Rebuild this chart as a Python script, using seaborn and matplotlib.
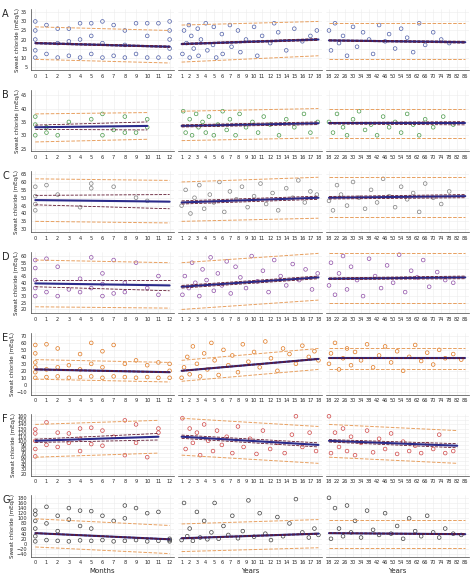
import matplotlib
matplotlib.use("Agg")
import matplotlib.pyplot as plt
import seaborn as sns
import numpy as np
import pandas as pd

sns.set_theme(style="whitegrid")
plt.rcParams['font.family'] = ['DejaVu Sans']

panels = ["A", "B", "C", "D", "E", "F", "G"]
colors = ["#5060a8", "#4a9a4a", "#808080", "#9050a8", "#e07820", "#d04848", "#404040"]
ylims = [(3, 37), (24, 47), (28, 67), (17, 63), (-14, 74), (15, 165), (-50, 190)]
yticks = [np.arange(5, 36, 5), np.arange(25, 46, 5), np.arange(30, 66, 5), np.arange(20, 61, 5),
          np.arange(-10, 71, 10), np.arange(20, 161, 10), np.arange(-40, 181, 20)]

fits = {
 "A": [(0,12,18,16,0.4,0.4,27,25,9,7), (1,18,17.5,20,0.4,0.5,28,30,7.5,11), (18,86,19.5,18.5,0.3,0.5,29,29,9,9)],
 "B": [(0,10,33,33.5,0.8,1.5,38,38.5,27.5,28.5), (1,18,33.5,34.5,0.4,0.5,39,40,28,29), (18,86,34.5,34.5,0.3,0.6,40,40,29,29)],
 "C": [(0,12,48.5,47.5,3,4.5,62,61,35,34), (1,18,47,50,1,1,60,63,35,37), (18,86,50,51,0.8,1,63,63,38,38)],
 "D": [(0,12,39.5,38,2.5,4,57,55,22,21), (1,18,37,44,1,1,55,62,20,27), (18,86,43,44,0.6,1,62,62,25,25)],
 "E": [(0,12,22,18,0.6,0.6,36,32,8,4), (1,18,20,37,0.5,0.6,35,52,5,22), (18,86,38,38,0.4,0.6,53,53,23,23)],
 "F": [(0,11,100,110,4,8,140,150,60,70), (1,18,110,90,4,5,155,135,65,45), (18,82,100,88,3,5,140,125,60,45)],
 "G": [(0,12,42,18,1.5,1.5,98,72,-12,-38), (1,18,22,40,1.5,2,78,95,-30,-15), (18,86,42,38,1.5,2,95,95,-15,-15)],
}

A1_x = [0,0,0,0,0,1,1,2,2,2,3,3,3,4,4,4,5,5,5,6,6,6,7,7,8,8,8,9,9,10,10,10,11,11,12,12,12,12,12]
A1_y = [10,14,20,25,30,12,28,10,18,26,11,19,26,10,20,29,12,22,29,10,18,30,11,28,10,17,25,12,29,10,22,29,10,29,10,15,20,25,30]
A2_x = [1.1,1.3,1.6,1.9,2.0,2.2,2.5,3.0,3.1,3.4,4.0,4.2,4.9,5.0,5.3,6.0,6.1,7.0,7.2,8.0,8.3,9.0,10.0,10.4,11.0,12.0,12.5,13.0,14.0,15.0,16.0,17.0,17.8]
A2_y = [12,25,18,28,10,22,15,26,11,20,29,14,17,27,10,23,12,28,16,25,13,20,27,11,22,18,29,24,14,26,19,22,25]
A3_x = [18,19,21,23,25,27,30,32,35,38,40,43,46,48,51,54,57,60,63,66,70,74,78]
A3_y = [25,14,29,18,22,11,27,16,24,20,12,28,19,23,15,26,21,13,29,17,24,20,18]
B1_x = [0,0,0,1,1,2,3,5,6,6,7,8,8,9,10,10]
B1_y = [30,34,37,31,33,30,35,36,38,30,32,37,31,31,33,36]
B2_x = [1.2,1.5,2.0,2.3,2.8,3.1,3.6,4.0,4.4,5.0,5.5,6.1,6.6,7.0,7.7,8.2,9.0,9.8,10.5,11.2,12.0,13.1,14.0,15.0,16.2,17.0,17.9]
B2_y = [39,31,36,30,38,33,35,31,37,30,34,39,32,36,30,38,33,35,31,37,34,30,36,33,38,31,35]
B3_x = [18,20,22,25,27,30,33,36,39,42,45,48,51,54,57,60,63,66,70,75,80]
B3_y = [35,31,38,33,30,36,39,32,34,30,37,33,35,31,38,34,30,36,33,37,34]
C1_x = [0,0,0,0,1,2,4,5,5,7,9,10]
C1_y = [42,46,51,57,58,52,44,56,59,57,50,48]
C2_x = [1.0,1.5,2.1,2.6,3.2,3.8,4.5,5.0,5.7,6.3,7.0,7.8,8.5,9.2,10.0,10.8,11.5,12.3,13.0,14.0,14.8,15.5,16.3,17.0,17.8]
C2_y = [45,55,40,50,58,43,52,47,60,41,54,49,57,44,51,59,46,53,42,56,50,61,47,54,52]
C3_x = [18,20,22,24,27,30,33,36,39,42,45,48,51,54,57,60,63,66,70,74,78]
C3_y = [48,42,58,52,45,60,50,43,55,47,62,51,44,57,49,53,41,59,50,46,54]
D1_x = [0,0,0,0,0,1,1,2,2,3,4,4,5,5,6,6,6,7,7,8,8,9,10,11,11]
D1_y = [30,36,42,51,57,33,58,30,52,35,33,43,36,59,30,39,47,32,57,33,40,55,36,31,45]
D2_x = [1.1,1.4,1.9,2.3,2.7,3.2,3.6,4.1,4.6,5.0,5.5,6.0,6.6,7.1,7.7,8.3,9.0,9.7,10.4,11.1,11.8,12.5,13.3,14.0,14.8,15.6,16.4,17.2,17.9]
D2_y = [31,45,36,55,40,30,50,42,59,34,47,38,56,32,52,44,36,60,41,49,33,57,45,38,54,42,50,35,47]
D3_x = [18,19,21,23,25,27,29,32,35,38,41,44,47,50,53,56,59,62,65,68,72,76,80]
D3_y = [38,55,31,47,60,35,52,42,30,58,45,36,53,40,61,33,49,44,57,37,48,42,40]
E1_x = [0,0,0,0,0,0,1,1,1,2,2,2,3,3,4,4,4,5,5,5,6,6,6,7,7,8,8,9,9,10,10,11,11,12,12,12]
E1_y = [10,18,25,32,45,57,11,22,58,12,25,52,10,28,11,22,44,12,30,60,10,25,48,12,57,11,30,10,35,11,28,10,32,10,20,30]
E2_x = [1.0,1.3,1.7,2.0,2.4,2.9,3.3,3.8,4.2,4.7,5.1,5.6,6.2,6.8,7.3,8.0,8.6,9.3,10.0,10.7,11.4,12.1,12.9,13.6,14.4,15.2,16.0,16.8,17.5,18.0]
E2_y = [10,25,40,15,55,30,12,45,22,60,35,14,50,28,42,18,58,33,47,25,62,38,20,52,44,30,56,40,48,35]
E3_x = [18,19,21,23,25,27,29,31,34,37,40,43,46,49,52,55,58,61,64,67,70,73,76,80,84]
E3_y = [30,45,60,22,38,52,28,47,35,58,25,42,55,32,48,20,40,57,34,46,29,50,38,44,36]
F1_x = [0,0,0,0,0,1,1,2,2,3,3,4,4,4,5,5,6,6,7,8,8,9,9,10,11,11]
F1_y = [62,80,100,118,128,90,145,85,120,95,118,75,105,130,92,132,88,125,110,150,65,140,95,60,120,130]
F2_x = [1.1,1.5,2.0,2.4,2.9,3.3,3.8,4.3,4.9,5.4,6.0,6.6,7.3,8.0,8.7,9.5,10.3,11.1,12.0,12.9,13.8,14.7,15.2,16.0,16.9,17.7]
F2_y = [155,80,130,95,120,65,140,100,75,125,90,110,70,135,85,105,68,125,80,95,70,115,160,85,120,75]
F3_x = [18,19,21,23,25,27,29,31,34,37,40,43,46,49,52,55,58,61,64,67,70,73,76,80]
F3_y = [160,70,120,85,130,75,110,65,95,125,72,105,80,118,68,98,75,88,70,92,80,115,70,75]
G1_x = [0,0,0,0,0,0,1,1,1,2,2,2,3,3,3,4,4,4,5,5,5,6,6,7,7,8,8,8,9,9,10,10,11,11,12,12,12]
G1_y = [10,30,60,90,115,130,15,80,145,12,50,110,10,95,140,14,70,130,12,60,128,15,110,10,90,12,100,150,15,140,10,120,12,125,10,15,20]
G2_x = [1.0,1.3,1.7,2.0,2.4,2.9,3.3,3.8,4.2,4.7,5.1,5.6,6.2,6.8,7.3,8.0,8.6,9.3,10.0,10.7,11.4,12.1,12.9,13.6,14.4,15.2,16.0,16.8,17.5,18.0]
G2_y = [15,160,30,60,12,125,25,90,18,45,160,20,70,35,110,22,50,170,28,120,40,15,105,30,80,175,45,25,60,35]
G3_x = [18,19,21,23,25,27,29,31,34,37,40,43,46,49,52,55,58,61,64,67,70,73,76,80,84]
G3_y = [180,20,140,60,30,150,45,90,25,130,55,35,120,40,70,20,100,50,30,110,45,25,60,40,35]

points = {
 "A": [(A1_x, A1_y), (A2_x, A2_y), (A3_x, A3_y)],
 "B": [(B1_x, B1_y), (B2_x, B2_y), (B3_x, B3_y)],
 "C": [(C1_x, C1_y), (C2_x, C2_y), (C3_x, C3_y)],
 "D": [(D1_x, D1_y), (D2_x, D2_y), (D3_x, D3_y)],
 "E": [(E1_x, E1_y), (E2_x, E2_y), (E3_x, E3_y)],
 "F": [(F1_x, F1_y), (F2_x, F2_y), (F3_x, F3_y)],
 "G": [(G1_x, G1_y), (G2_x, G2_y), (G3_x, G3_y)],
}

xlims = [(-0.4, 12.4), (0.6, 18.4), (16.5, 88)]
xticks = [np.arange(0, 13), np.arange(1, 19), np.arange(18, 87, 4)]
xlabels = ["Months", "Years", "Years"]

fig = plt.figure(figsize=(4.74, 5.86), dpi=100)
gs = fig.add_gridspec(7, 3, left=0.065, right=0.99, top=0.985, bottom=0.05, hspace=0.32, wspace=0.03)

for r, p in enumerate(panels):
    for c in range(3):
        ax = fig.add_subplot(gs[r, c])
        px, py = points[p][c]
        sns.scatterplot(x=px, y=py, ax=ax, s=7, facecolor="none", edgecolor=colors[r], linewidth=0.5)
        x0, x1, y0, y1, c0, c1, t0, t1, b0, b1 = fits[p][c]
        xs = [x0, x1]
        sns.lineplot(x=xs, y=[t0, t1], ax=ax, color="#e8a060", lw=0.7, ls="--")
        sns.lineplot(x=xs, y=[b0, b1], ax=ax, color="#e8a060", lw=0.7, ls="--")
        sns.lineplot(x=xs, y=[y0, y1], ax=ax, color="#2a2a8a", lw=1.5)
        sns.lineplot(x=xs, y=[y0 + c0, y1 + c1], ax=ax, color="#601830", lw=0.6, ls="--")
        sns.lineplot(x=xs, y=[y0 - c0, y1 - c1], ax=ax, color="#601830", lw=0.6, ls="--")
        ax.set_xlim(*xlims[c]); ax.set_ylim(*ylims[r])
        ax.set_xticks(xticks[c]); ax.set_yticks(yticks[r])
        ax.tick_params(labelsize=3.6, length=1.5, pad=1)
        ax.grid(color="#ececec", lw=0.4)
        for s in ["top", "right"]:
            ax.spines[s].set_visible(False)
        for s in ["left", "bottom"]:
            ax.spines[s].set_color("#444"); ax.spines[s].set_linewidth(0.5)
        if c == 0:
            ax.set_ylabel("Sweat chloride (mEq/L)", fontsize=4, labelpad=1)
            ax.text(-0.2, 1.0, p, transform=ax.transAxes, fontsize=7, va="top", ha="left")
        else:
            ax.set_yticklabels([])
            ax.tick_params(axis="y", length=0)
            ax.spines["left"].set_visible(False)
        if r == 6:
            ax.set_xlabel(xlabels[c], fontsize=5, labelpad=2)

fig.savefig("out.png", dpi=100)
